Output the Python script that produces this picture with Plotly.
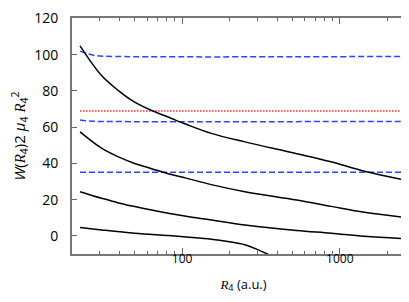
import plotly.graph_objects as go

# Curves (x in a.u., y values)
c1_x = [22.5, 30.8, 39.4, 50, 64, 81.5, 106, 153, 250, 533, 881, 1432, 2926]
c1_y = [104.9, 88.5, 80.2, 73.8, 69.2, 65.6, 61.6, 56.6, 51.9, 45.4, 40.9, 35.7, 29.9]

c2_x = [22.5, 30.8, 39.4, 50, 64, 81.5, 106, 153, 250, 533, 881, 1432, 2926]
c2_y = [57.4, 48.4, 43.6, 40.0, 37.1, 34.3, 31.9, 28.3, 24.4, 19.8, 16.3, 13.0, 9.7]

c3_x = [22.5, 30.8, 39.4, 50, 64, 81.5, 106, 153, 250, 533, 881, 1432, 2926]
c3_y = [24.4, 20.8, 18.2, 16.2, 14.3, 12.5, 10.8, 8.8, 6.0, 3.0, 1.5, -0.2, -1.8]

c4_x = [22.5, 30.8, 50, 81.5, 106, 153, 195, 250, 304, 355]
c4_y = [4.6, 3.3, 1.5, 0.2, -0.6, -1.8, -3.1, -4.9, -7.7, -10.4]

b1_x = [22.5, 25, 28, 32, 3000]
b1_y = [102.0, 100.6, 99.6, 99.2, 99.1]

b2_x = [22.5, 26, 30, 3000]
b2_y = [64.0, 63.4, 63.2, 63.2]

b3_x = [22.5, 3000]
b3_y = [35.2, 35.2]

r_x = [22.5, 3000]
r_y = [68.9, 68.9]

x_major = [100, 1000]
x_minor = [30, 40, 50, 60, 70, 80, 90, 200, 300, 400, 500, 600, 700, 800, 900, 2000, 3000]
y_ticks = [0, 20, 40, 60, 80, 100, 120]

BLUE = "#2a44ff"
RED = "#ff2a2a"

fig = go.Figure()
for xs, ys in [(b1_x, b1_y), (b2_x, b2_y), (b3_x, b3_y)]:
    fig.add_trace(go.Scatter(x=xs, y=ys, mode="lines", line=dict(color=BLUE, width=1.5, dash="6px,3px", shape="spline")))
fig.add_trace(go.Scatter(x=r_x, y=r_y, mode="lines", line=dict(color=RED, width=1.5, dash="1.5px,1.5px")))
for xs, ys in [(c1_x, c1_y), (c2_x, c2_y), (c3_x, c3_y), (c4_x, c4_y)]:
    fig.add_trace(go.Scatter(x=xs, y=ys, mode="lines", line=dict(color="black", width=1.5, shape="spline", smoothing=1.0)))

serif = "font-family:'Liberation Serif'"
ytitle = (f"<i>W</i>(<span style=\"{serif}\"><i>R</i></span><sub>4</sub>)2 "
          f"<i>μ</i><sub>4</sub> <span style=\"{serif}\"><i>R</i></span><sub>4</sub><sup>2</sup>")
xtitle = f"<span style=\"{serif}\"><i>R</i></span><sub>4</sub> (a.u.)"

fig.update_layout(
    width=409, height=302,
    margin=dict(l=64, r=2, t=10, b=56),
    plot_bgcolor="white", paper_bgcolor="white",
    showlegend=False,
    font=dict(family="Open Sans", color="black"),
    xaxis=dict(
        type="log", range=[1.30103, 3.4771], automargin=False,
        tickmode="array", tickvals=x_major, ticktext=["100", "1000"],
        ticks="inside", ticklen=6, tickwidth=1, tickcolor="#666",
        minor=dict(tickmode="array", tickvals=x_minor, ticks="inside", ticklen=3, tickcolor="#666"),
        showline=True, linecolor="#777", linewidth=2, mirror="ticks",
        showgrid=False, zeroline=False,
        tickfont=dict(size=12),
        ticklabelstandoff=-7,
        title=dict(text=xtitle, font=dict(size=13), standoff=13),
    ),
    yaxis=dict(
        range=[-10, 120.3], tickvals=y_ticks, automargin=False,
        ticks="inside", ticklen=5, tickwidth=1, tickcolor="#666",
        showline=True, linecolor="#777", linewidth=2, mirror="ticks",
        showgrid=False, zeroline=False,
        tickfont=dict(size=14),
        ticklabelstandoff=9,
        title=dict(text=ytitle, font=dict(size=15), standoff=6),
    ),
)

fig.write_html("out.html")
